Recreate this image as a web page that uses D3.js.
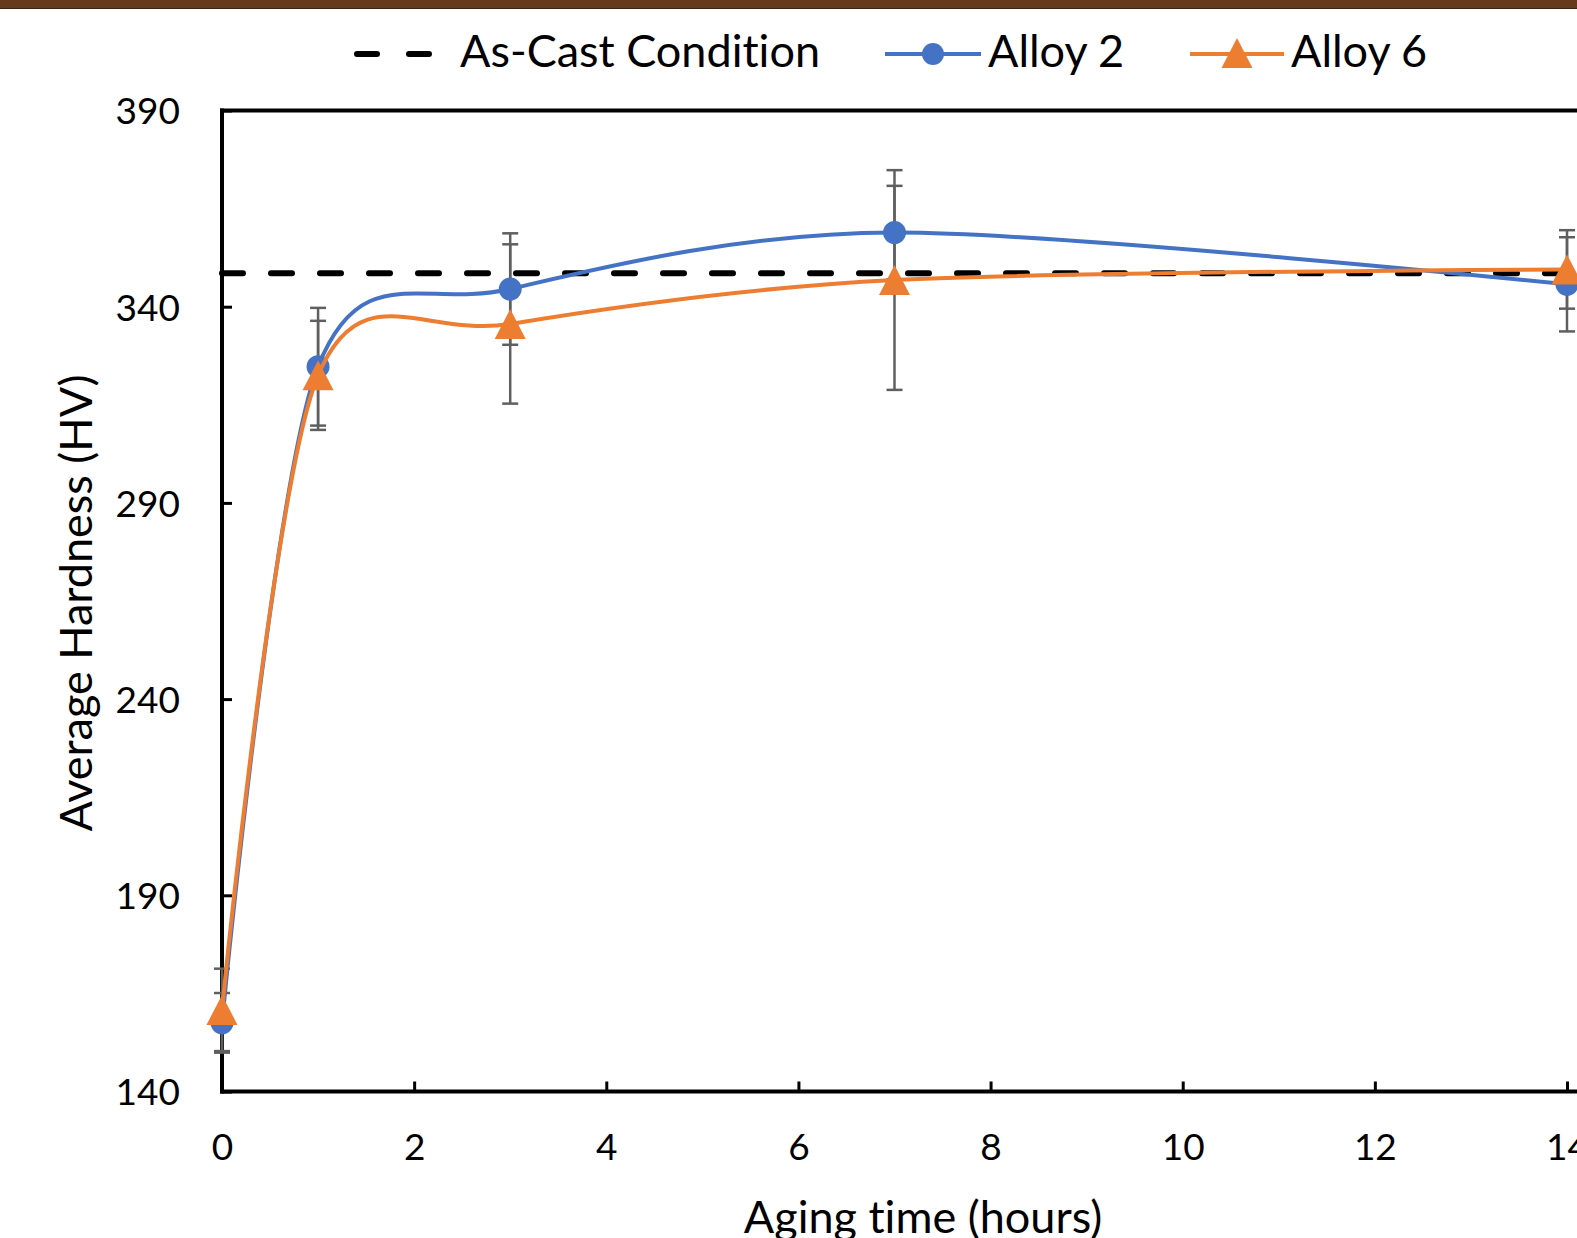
<!DOCTYPE html>
<html>
<head>
<meta charset="utf-8">
<script src="https://cdn.jsdelivr.net/npm/d3@7"></script>
<style>
  body { margin: 0; background: #fff; }
  svg { display: block; font-family: Lato, "Open Sans", sans-serif; font-variant-ligatures: none; }
  .tick-label { font-size: 37px; fill: #000; }
  .title, .legend-label { font-size: 45px; fill: #000; }
</style>
</head>
<body>
<div id="chart"></div>
<script>
'use strict';

// values
const times = [0, 1, 3, 7, 14];
const alloy2 = [157.5, 324.7, 344.5, 358.9, 345.7];
const alloy2Err = [7.6, 15, 14.2, 11.9, 12];
const alloy6 = [160.8, 322.5, 335.6, 346.8, 349.5];
const alloy6Err = [10.5, 13.9, 20.3, 28, 10];
const asCast = [348.5, 348.5];
const asCastTimes = [0, 14];
const xTicks = [0, 2, 4, 6, 8, 10, 12, 14];
const yTicks = [140, 190, 240, 290, 340, 390];

const width = 1577;
const height = 1238;
const blue = '#4472c4';
const orange = '#ed7d31';
const errColor = '#5f5f5f';

let xScale = d3.scaleLinear()
    .domain([0, 14])
    .range([222, 1567]);

let yScale = d3.scaleLinear()
    .domain([140, 390])
    .range([1091.5, 110.5]);

let svg = d3.select('#chart').append('svg')
    .attr('width', width)
    .attr('height', height);

svg.append('rect')
    .attr('width', width)
    .attr('height', height)
    .attr('fill', '#fff');

// brown strip at the very top
svg.append('rect')
    .attr('width', width)
    .attr('height', 8)
    .attr('fill', '#683a1d');
svg.append('line')
    .attr('x1', 0).attr('x2', width)
    .attr('y1', 8.5).attr('y2', 8.5)
    .attr('stroke', '#3b2413')
    .attr('stroke-width', 1);

// axes, ticks pointing inwards
let xAxis = d3.axisBottom(xScale)
    .tickValues(xTicks)
    .tickSizeInner(-10)
    .tickSizeOuter(0)
    .tickPadding(30);

let yAxis = d3.axisLeft(yScale)
    .tickValues(yTicks)
    .tickSizeInner(-10)
    .tickSizeOuter(0)
    .tickPadding(42);

let gx = svg.append('g')
    .attr('transform', `translate(0, ${yScale(140)})`)
    .call(xAxis)
    .attr('font-family', null)
    .attr('font-size', null);
gx.select('.domain').remove();
gx.selectAll('.tick line').attr('stroke', '#000').attr('stroke-width', 3);
gx.selectAll('.tick text')
    .attr('class', 'tick-label')
    .attr('dy', '1.05em');

let gy = svg.append('g')
    .attr('transform', `translate(${xScale(0)}, 0)`)
    .call(yAxis)
    .attr('font-family', null)
    .attr('font-size', null);
gy.select('.domain').remove();
gy.selectAll('.tick line').attr('stroke', '#000').attr('stroke-width', 3);
gy.selectAll('.tick text')
    .attr('class', 'tick-label')
    .attr('dy', '0.36em');

// frame lines: left, bottom, top
svg.append('line')
    .attr('x1', xScale(0)).attr('x2', xScale(0))
    .attr('y1', yScale(390) - 2).attr('y2', yScale(140) + 2)
    .attr('stroke', '#000').attr('stroke-width', 4);
svg.append('line')
    .attr('x1', xScale(0) - 2).attr('x2', width)
    .attr('y1', yScale(140)).attr('y2', yScale(140))
    .attr('stroke', '#000').attr('stroke-width', 4);
svg.append('line')
    .attr('x1', xScale(0) - 2).attr('x2', width)
    .attr('y1', yScale(390)).attr('y2', yScale(390))
    .attr('stroke', '#000').attr('stroke-width', 4);

// error bars
function drawErrors(values, errs) {
    let g = svg.append('g')
        .attr('stroke', errColor)
        .attr('stroke-width', 2.5);
    times.forEach(function (t, i) {
        let x = xScale(t);
        let top = yScale(values[i] + errs[i]);
        let bottom = yScale(values[i] - errs[i]);
        g.append('line').attr('x1', x).attr('x2', x).attr('y1', top).attr('y2', bottom);
        g.append('line').attr('x1', x - 8).attr('x2', x + 8).attr('y1', top).attr('y2', top);
        g.append('line').attr('x1', x - 8).attr('x2', x + 8).attr('y1', bottom).attr('y2', bottom);
    });
}
drawErrors(alloy2, alloy2Err);
drawErrors(alloy6, alloy6Err);

// as-cast reference line
let flatLine = d3.line()
    .x((d, i) => xScale(asCastTimes[i]))
    .y(d => yScale(d));

svg.append('path')
    .datum(asCast)
    .attr('d', flatLine)
    .attr('fill', 'none')
    .attr('stroke', '#000')
    .attr('stroke-width', 6)
    .attr('stroke-linecap', 'round')
    .attr('stroke-dasharray', '21 28');

let smooth = d3.line()
    .x((d, i) => xScale(times[i]))
    .y(d => yScale(d))
    .curve(d3.curveCardinal.tension(0.1));

svg.append('path')
    .datum(alloy2)
    .attr('d', smooth)
    .attr('fill', 'none')
    .attr('stroke', blue)
    .attr('stroke-width', 4);

svg.append('g')
    .selectAll('circle')
    .data(alloy2)
    .enter()
    .append('circle')
    .attr('cx', (d, i) => xScale(times[i]))
    .attr('cy', d => yScale(d))
    .attr('r', 11.5)
    .attr('fill', blue);

svg.append('path')
    .datum(alloy6)
    .attr('d', smooth)
    .attr('fill', 'none')
    .attr('stroke', orange)
    .attr('stroke-width', 4);

function triangle(cx, cy) {
    let w = 31, h = 30;
    return `M${cx},${cy - h / 2}L${cx + w / 2},${cy + h / 2}L${cx - w / 2},${cy + h / 2}Z`;
}

svg.append('g')
    .selectAll('path')
    .data(alloy6)
    .enter()
    .append('path')
    .attr('d', (d, i) => triangle(xScale(times[i]), yScale(d)))
    .attr('fill', orange);

// axis titles
svg.append('text')
    .text('Aging time (hours)')
    .attr('class', 'title')
    .attr('text-anchor', 'middle')
    .attr('x', 923)
    .attr('y', 1233);

svg.append('text')
    .text('Average Hardness (HV)')
    .attr('class', 'title')
    .attr('text-anchor', 'middle')
    .attr('transform', 'translate(92, 603) rotate(-90)');

// legend
let legend = svg.append('g');
legend.append('line')
    .attr('x1', 357).attr('x2', 429)
    .attr('y1', 54).attr('y2', 54)
    .attr('stroke', '#000')
    .attr('stroke-width', 6)
    .attr('stroke-linecap', 'round')
    .attr('stroke-dasharray', '20 32');
legend.append('text')
    .text('As-Cast Condition')
    .attr('class', 'legend-label')
    .attr('x', 460)
    .attr('y', 67);

legend.append('line')
    .attr('x1', 885).attr('x2', 981)
    .attr('y1', 54).attr('y2', 54)
    .attr('stroke', blue)
    .attr('stroke-width', 4);
legend.append('circle')
    .attr('cx', 933).attr('cy', 54).attr('r', 11)
    .attr('fill', blue);
legend.append('text')
    .text('Alloy 2')
    .attr('class', 'legend-label')
    .attr('x', 988)
    .attr('y', 67);

legend.append('line')
    .attr('x1', 1190).attr('x2', 1284)
    .attr('y1', 54).attr('y2', 54)
    .attr('stroke', orange)
    .attr('stroke-width', 4);
legend.append('path')
    .attr('d', triangle(1237, 53))
    .attr('fill', orange);
legend.append('text')
    .text('Alloy 6')
    .attr('class', 'legend-label')
    .attr('x', 1291)
    .attr('y', 67);
</script>
</body>
</html>
